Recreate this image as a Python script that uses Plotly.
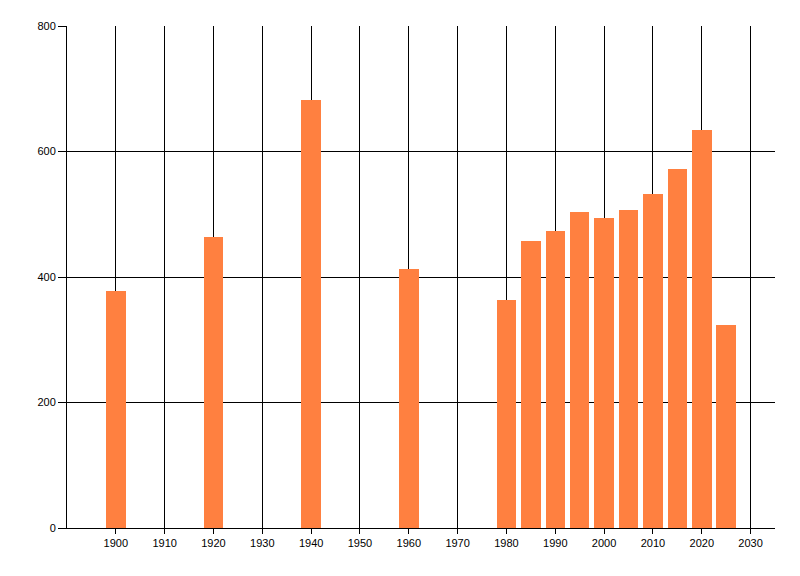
import plotly.graph_objects as go

years = [1900, 1920, 1940, 1960, 1980, 1985, 1990, 1995, 2000, 2005, 2010, 2015, 2020, 2025]
values = [378, 464, 682, 413, 363, 457, 473, 504, 494, 507, 532, 572, 634, 323]
x_ticks = [1900, 1910, 1920, 1930, 1940, 1950, 1960, 1970, 1980, 1990, 2000, 2010, 2020, 2030]
y_ticks = [0, 200, 400, 600, 800]

fig = go.Figure(go.Bar(x=years, y=values, width=4, marker=dict(color="#FF8040", line=dict(width=0))))

# page body has an 8px margin; compensate so the plot area sits where the reference's does
fig.update_layout(
    width=792, height=568,
    margin=dict(l=59, r=25, t=18, b=48),
    plot_bgcolor="white", paper_bgcolor="white",
    font=dict(family="Liberation Sans, Arial", size=11, color="black"),
    showlegend=False,
    bargap=0,
)
fig.update_xaxes(
    range=[1890, 2035], tickvals=x_ticks, ticktext=[str(t) for t in x_ticks],
    showgrid=True, gridcolor="black", gridwidth=1,
    showline=True, linecolor="black", linewidth=1,
    ticks="outside", ticklen=5, tickcolor="black", zeroline=False,
)
fig.update_yaxes(
    range=[0, 800], tickvals=y_ticks,
    showgrid=True, gridcolor="black", gridwidth=1,
    showline=True, linecolor="black", linewidth=1,
    ticks="outside", ticklen=8, tickcolor="black", zeroline=False,
)
fig.write_html("out.html")
